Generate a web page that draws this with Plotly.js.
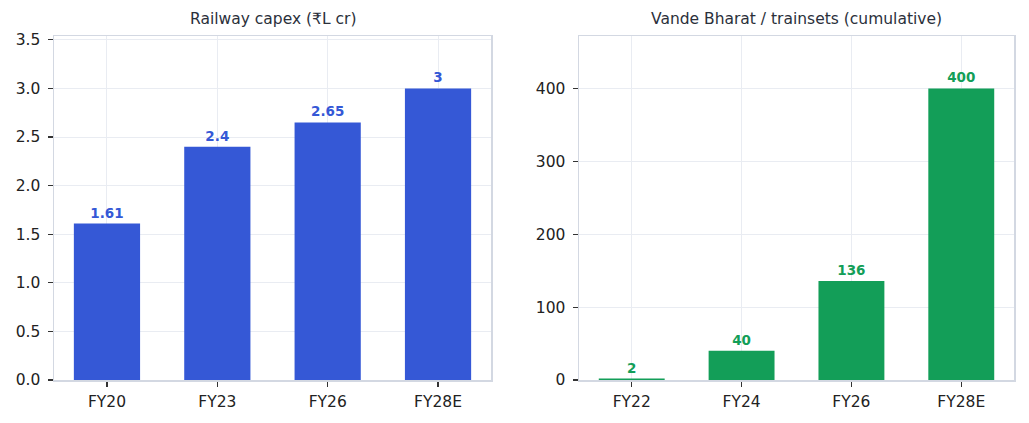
<!DOCTYPE html>
<html>
<head>
<meta charset="utf-8">
<script src="https://cdn.plot.ly/plotly-3.0.1.min.js"></script>
<style>html,body{margin:0;padding:0;background:#fff;}#chart{width:1029px;height:423px;}</style>
</head>
<body>
<div id="chart"></div>
<script>
const capexYears = ["FY20", "FY23", "FY26", "FY28E"];
const capexValues = [1.61, 2.4, 2.65, 3];
const vandeYears = ["FY22", "FY24", "FY26", "FY28E"];
const vandeValues = [2, 40, 136, 400];
const capexTitle = "Railway capex (₹L cr)";
const vandeTitle = "Vande Bharat / trainsets (cumulative)";

const blue = "#3558d6";
const green = "#139e58";
const frame = "#d3d8e2";
const grid = "#e9ecf2";
const font = "DejaVu Sans, sans-serif";

function bar(x, y, color, xa, ya) {
  return {
    type: "bar", x: x, y: y, xaxis: xa, yaxis: ya,
    marker: {color: color, line: {width: 0}},
    width: 0.6,
    text: y.map(v => String(v)),
    textposition: "outside",
    cliponaxis: false,
    textfont: {family: font, size: 13.5, color: color, weight: "bold"},
    hoverinfo: "skip"
  };
}

const axisCommon = {
  showline: true, mirror: true, linecolor: frame, linewidth: 1.5,
  showgrid: true, gridcolor: grid, gridwidth: 1,
  ticks: "outside", ticklen: 5, tickwidth: 1.2, tickcolor: "#333",
  tickfont: {family: font, size: 15.5, color: "#222"},
  zeroline: false, fixedrange: true
};

const layout = {
  width: 1029, height: 423,
  margin: {l: 0, r: 0, t: 0, b: 0},
  paper_bgcolor: "#fff", plot_bgcolor: "#fff",
  showlegend: false,
  font: {family: font},
  xaxis: Object.assign({}, axisCommon, {domain: [54/1029, 491/1029], range: [-0.48, 3.48], type: "category", anchor: "y", ticklabelstandoff: 2}),
  yaxis: Object.assign({}, axisCommon, {domain: [1-380/423, 1-36/423], range: [0, 3.54], dtick: 0.5, tick0: 0, tickformat: ".1f", anchor: "x", ticklabelstandoff: 4}),
  xaxis2: Object.assign({}, axisCommon, {domain: [579/1029, 1014/1029], range: [-0.48, 3.48], type: "category", anchor: "y2", ticklabelstandoff: 2}),
  yaxis2: Object.assign({}, axisCommon, {domain: [1-380/423, 1-36/423], range: [0, 472], dtick: 100, tick0: 0, anchor: "x2", ticklabelstandoff: 4}),
  annotations: [
    {text: capexTitle, xref: "paper", yref: "paper", x: (54+491)/2/1029, y: 1-36/423, xanchor: "center", yanchor: "bottom", yshift: 6, showarrow: false, font: {family: font, size: 15.5, color: "#2b303b"}},
    {text: vandeTitle, xref: "paper", yref: "paper", x: (579+1014)/2/1029, y: 1-36/423, xanchor: "center", yanchor: "bottom", yshift: 6, showarrow: false, font: {family: font, size: 15.5, color: "#2b303b"}}
  ]
};

Plotly.newPlot("chart", [
  bar(capexYears, capexValues, blue, "x", "y"),
  bar(vandeYears, vandeValues, green, "x2", "y2")
], layout, {staticPlot: true, displayModeBar: false});
</script>
</body>
</html>
